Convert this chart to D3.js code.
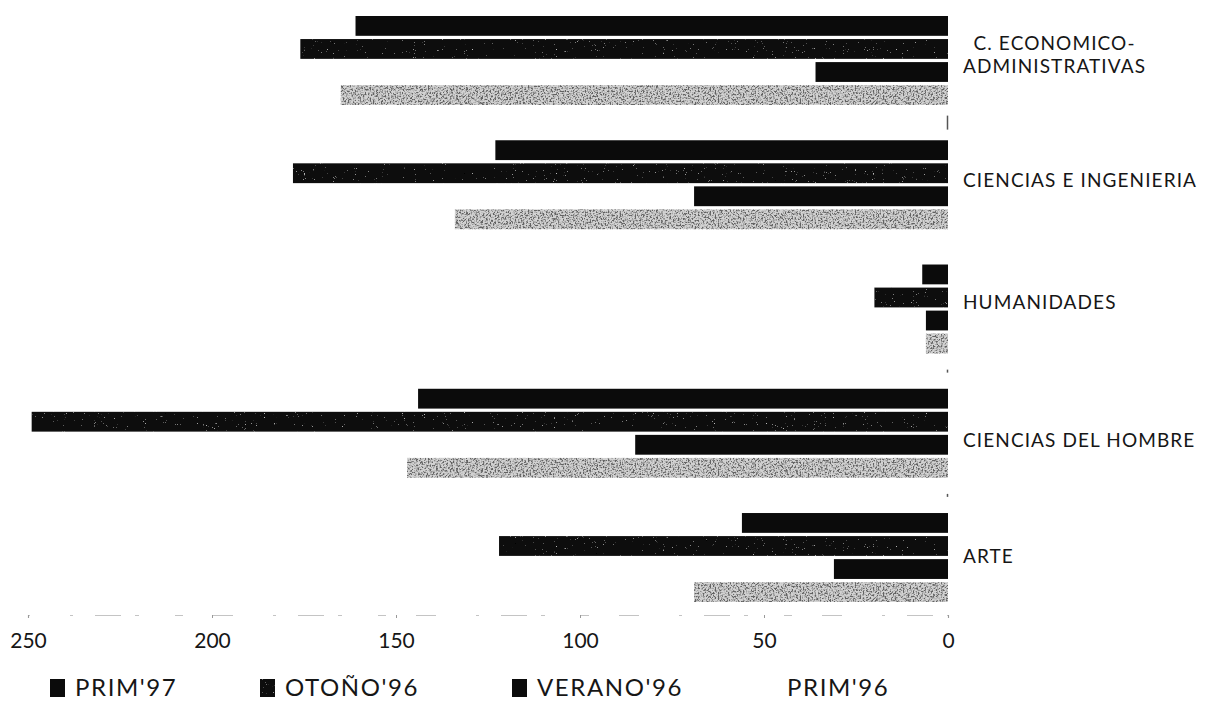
<!DOCTYPE html>
<html>
<head>
<meta charset="utf-8">
<script src="https://cdn.jsdelivr.net/npm/d3@7"></script>
<style>
  html, body { margin: 0; padding: 0; background: #fff; }
  svg { display: block; }
  text { font-family: Lato, "Open Sans", sans-serif; fill: #161616; }
</style>
</head>
<body>
<svg id="chart" width="1213" height="707"></svg>
<script>
// ---- data ----
const categories = [
  "C. ECONOMICO-\nADMINISTRATIVAS",
  "CIENCIAS E INGENIERIA",
  "HUMANIDADES",
  "CIENCIAS DEL HOMBRE",
  "ARTE"
];
const seriesNames = ["PRIM'97", "OTOÑO'96", "VERANO'96", "PRIM'96"];
const prim97  = [161, 123, 7, 144, 56];
const otono96 = [176, 178, 20, 249, 122];
const verano96 = [36, 69, 6, 85, 31];
const prim96  = [165, 134, 6, 147, 69];
const tickValues = [0, 50, 100, 150, 200, 250];
const tickLabels = ["0", "50", "100", "150", "200", "250"];

const seriesValues = [prim97, otono96, verano96, prim96];

// ---- layout ----
const svg = d3.select("#chart");
const defs = svg.append("defs");

function grainFilter(id, freq, seed, grey, a, b) {
  const f = defs.append("filter").attr("id", id)
    .attr("x", 0).attr("y", 0).attr("width", 1).attr("height", 1);
  f.append("feTurbulence").attr("type", "fractalNoise").attr("baseFrequency", freq)
    .attr("numOctaves", 2).attr("seed", seed).attr("result", "n");
  f.append("feColorMatrix").attr("in", "n").attr("type", "matrix")
    .attr("values", `0 0 0 0 ${grey}  0 0 0 0 ${grey}  0 0 0 0 ${grey}  ${a} 0 0 0 ${b}`)
    .attr("result", "dots");
  f.append("feComposite").attr("in", "dots").attr("in2", "SourceAlpha")
    .attr("operator", "in").attr("result", "d");
  const m = f.append("feMerge");
  m.append("feMergeNode").attr("in", "SourceGraphic");
  m.append("feMergeNode").attr("in", "d");
}
grainFilter("grainLight", 0.6, 4, 0.12, 4.5, -2.0);
grainFilter("grainDark", 0.9, 9, 0.5, 7, -5.1);

const seriesStyle = [
  { fill: "#0b0b0b", filter: null },
  { fill: "#111111", filter: "url(#grainDark)" },
  { fill: "#0b0b0b", filter: null },
  { fill: "#d2d2d2", filter: "url(#grainLight)" }
];

const x = d3.scaleLinear().domain([0, 250]).range([948, 28]);
const y0 = d3.scaleBand().domain(d3.range(categories.length)).range([16, 602])
  .paddingInner(0.284).paddingOuter(0);
const y1 = d3.scaleBand().domain(d3.range(seriesNames.length)).range([0, y0.bandwidth()])
  .paddingInner(0.14).paddingOuter(0);

// bars
const groups = svg.append("g").selectAll("g").data(categories).join("g")
  .attr("transform", (d, i) => `translate(0,${y0(i)})`);
groups.each(function(cat, ci) {
  d3.select(this).selectAll("rect")
    .data(seriesValues.map((vals, si) => ({ si, v: vals[ci] })))
    .join("rect")
    .attr("x", d => x(d.v))
    .attr("y", d => y1(d.si))
    .attr("width", d => x(0) - x(d.v))
    .attr("height", y1.bandwidth())
    .attr("fill", d => seriesStyle[d.si].fill)
    .attr("filter", d => seriesStyle[d.si].filter);
});

// small marks on the zero line between groups
const sepY = d3.range(categories.length - 1).map(i => (y0(i) + y0.bandwidth() + y0(i + 1)) / 2);
const sepLen = [7, 0, 1.5, 1.5];
svg.append("g").selectAll("line").data(sepY).join("line")
  .attr("x1", x(0) - 0.5).attr("x2", x(0) - 0.5)
  .attr("y1", (d, i) => d - sepLen[i])
  .attr("y2", (d, i) => d + sepLen[i])
  .attr("stroke", "#555").attr("stroke-width", 1.5)
  .attr("display", (d, i) => sepLen[i] ? null : "none");

// axis
const axisY = 615;
const axis = d3.axisBottom(x).tickValues(tickValues)
  .tickFormat((d, i) => tickLabels[i]).tickSize(3).tickPadding(15);
const ax = svg.append("g").attr("transform", `translate(0,${axisY})`).call(axis);
ax.select(".domain").attr("stroke", "#c4c4c4").attr("stroke-width", 1.2)
  .attr("stroke-dasharray", "4,14,26,22,3,40,20,30,8,36");
ax.selectAll(".tick line").attr("stroke", "#999");
ax.selectAll(".tick text").style("font-size", "21px").attr("fill", "#161616")
  .style("font-family", "Lato, sans-serif");

// category labels
const labelX = 963;
const labelDy = [-10.5, 2.5, -0.5, 13.5, 5.5];
categories.forEach((cat, i) => {
  const lines = cat.split("\n");
  const cy = y0(i) + y0.bandwidth() / 2 + labelDy[i];
  const t = svg.append("text")
    .style("font-size", "19px").style("letter-spacing", "1.1px");
  lines.forEach((ln, k) => {
    t.append("tspan").attr("x", labelX).attr("y", cy + k * 23).text(ln);
  });
  if (lines.length > 1) {
    const spans = t.selectAll("tspan").nodes();
    const widths = spans.map(s => s.getComputedTextLength());
    const maxW = d3.max(widths);
    spans.forEach((s, k) => d3.select(s).attr("x", labelX + (maxW - widths[k]) / 2));
  }
});

// legend
const legendY = 696;
const legendX = [50, 260, 512, 762];
seriesNames.forEach((name, i) => {
  const lx = legendX[i];
  if (i < 3) {
    svg.append("rect").attr("x", lx).attr("y", legendY - 17).attr("width", 15).attr("height", 18)
      .attr("fill", seriesStyle[i].fill).attr("filter", seriesStyle[i].filter);
  }
  svg.append("text").attr("x", lx + 25).attr("y", legendY)
    .style("font-size", "24px").style("letter-spacing", "1.6px").text(name);
});
</script>
</body>
</html>
